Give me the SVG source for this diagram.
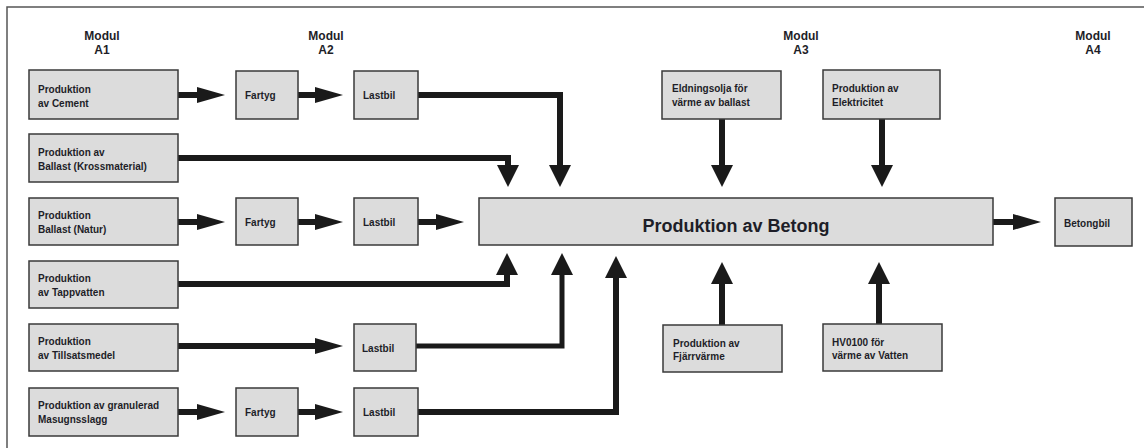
<svg xmlns="http://www.w3.org/2000/svg" width="1144" height="448" viewBox="0 0 1144 448">
<style>
.bg{fill:#ffffff}
.frame{fill:none;stroke:#555555;stroke-width:1.5}
.box{fill:#dcdcdc;stroke:#3a3a3a;stroke-width:1.5}
.t{font-family:"Liberation Sans",Arial,sans-serif;font-weight:bold;font-size:10px;fill:#1e1e28}
.mod{font-family:"Liberation Sans",Arial,sans-serif;font-weight:bold;font-size:12px;fill:#1e1e28;text-anchor:middle}
.big{font-family:"Liberation Sans",Arial,sans-serif;font-weight:bold;font-size:18px;fill:#1e1e28;text-anchor:middle}
.c{fill:none;stroke:#1a1a1a;stroke-width:6;stroke-linejoin:miter}
.c5{stroke-width:5}
</style>
<defs>
<marker id="mh" markerUnits="userSpaceOnUse" viewBox="0 -8 28 16" markerWidth="28" markerHeight="16" refX="2" refY="0" orient="auto">
<path d="M0,-8 L28,0 L0,8 Z" fill="#1a1a1a"/>
</marker>
<marker id="mv" markerUnits="userSpaceOnUse" viewBox="0 -11 22 22" markerWidth="22" markerHeight="22" refX="2" refY="0" orient="auto">
<path d="M0,-11 L22,0 L0,11 Z" fill="#1a1a1a"/>
</marker>
</defs>
<rect class="bg" x="0" y="0" width="1144" height="448"/>
<path class="frame" d="M7,448 V7 H1144"/>

<g id="labels">
<text class="mod" x="102" y="40">Modul</text><text class="mod" x="102" y="54">A1</text>
<text class="mod" x="326" y="40">Modul</text><text class="mod" x="326" y="54">A2</text>
<text class="mod" x="801" y="40">Modul</text><text class="mod" x="801" y="54">A3</text>
<text class="mod" x="1093" y="40">Modul</text><text class="mod" x="1093" y="54">A4</text>
</g>

<g id="connectors">
<path class="c" d="M178,95 H199" marker-end="url(#mh)"/>
<path class="c" d="M298,95 H317" marker-end="url(#mh)"/>
<path class="c" d="M418,95 H560 V167" marker-end="url(#mv)"/>
<path class="c" d="M178,158 H508 V167" marker-end="url(#mv)"/>
<path class="c" d="M178,222 H199" marker-end="url(#mh)"/>
<path class="c" d="M298,222 H317" marker-end="url(#mh)"/>
<path class="c" d="M418,222 H438" marker-end="url(#mh)"/>
<path class="c" d="M178,284 H507 V273" marker-end="url(#mv)"/>
<path class="c" d="M178,346 H317" marker-end="url(#mh)"/>
<path class="c c5" d="M416,346 H562 V273" marker-end="url(#mv)"/>
<path class="c" d="M178,412 H199" marker-end="url(#mh)"/>
<path class="c" d="M298,412 H317" marker-end="url(#mh)"/>
<path class="c" d="M418,412 H616 V276" marker-end="url(#mv)"/>
<path class="c" d="M722,119 V167" marker-end="url(#mv)"/>
<path class="c" d="M882,119 V167" marker-end="url(#mv)"/>
<path class="c" d="M722,325 V282" marker-end="url(#mv)"/>
<path class="c" d="M879,324 V282" marker-end="url(#mv)"/>
<path class="c" d="M993,222 H1015" marker-end="url(#mh)"/>
</g>

<g id="cement"><rect class="box" x="29" y="70" width="149" height="49"/><text class="t" x="38" y="92.5">Produktion</text><text class="t" x="38" y="106.5">av Cement</text></g>
<g id="fartyg1"><rect class="box" x="236" y="71" width="62" height="48"/><text class="t" x="245" y="99">Fartyg</text></g>
<g id="lastbil1"><rect class="box" x="354" y="71" width="64" height="48"/><text class="t" x="363" y="99">Lastbil</text></g>

<g id="kross"><rect class="box" x="29" y="134" width="149" height="48"/><text class="t" x="38" y="156">Produktion av</text><text class="t" x="38" y="170">Ballast (Krossmaterial)</text></g>

<g id="natur"><rect class="box" x="29" y="198" width="149" height="47"/><text class="t" x="38" y="219">Produktion</text><text class="t" x="38" y="233">Ballast (Natur)</text></g>
<g id="fartyg3"><rect class="box" x="236" y="198" width="62" height="47"/><text class="t" x="245" y="226">Fartyg</text></g>
<g id="lastbil3"><rect class="box" x="354" y="198" width="64" height="47"/><text class="t" x="363" y="226">Lastbil</text></g>

<g id="tappvatten"><rect class="box" x="29" y="261" width="149" height="47"/><text class="t" x="38" y="282">Produktion</text><text class="t" x="38" y="296">av Tappvatten</text></g>

<g id="tillsats"><rect class="box" x="29" y="324" width="149" height="47"/><text class="t" x="38" y="345">Produktion</text><text class="t" x="38" y="359">av Tillsatsmedel</text></g>
<g id="lastbil5"><rect class="box" x="354" y="324" width="62" height="47"/><text class="t" x="362" y="352">Lastbil</text></g>

<g id="slagg"><rect class="box" x="29" y="388" width="149" height="48"/><text class="t" x="38" y="409">Produktion av granulerad</text><text class="t" x="38" y="423">Masugnsslagg</text></g>
<g id="fartyg6"><rect class="box" x="236" y="388" width="62" height="48"/><text class="t" x="245" y="416">Fartyg</text></g>
<g id="lastbil6"><rect class="box" x="354" y="388" width="64" height="48"/><text class="t" x="363" y="416">Lastbil</text></g>

<g id="betong"><rect class="box" x="479" y="198" width="514" height="47"/><text class="big" x="736" y="232">Produktion av Betong</text></g>
<g id="betongbil"><rect class="box" x="1055" y="198" width="77" height="48"/><text class="t" x="1064" y="227">Betongbil</text></g>

<g id="eldningsolja"><rect class="box" x="662" y="71" width="119" height="48"/><text class="t" x="672" y="92">Eldningsolja för</text><text class="t" x="672" y="106">värme av ballast</text></g>
<g id="elektricitet"><rect class="box" x="823" y="70" width="117" height="49"/><text class="t" x="832" y="92">Produktion av</text><text class="t" x="832" y="106">Elektricitet</text></g>
<g id="fjarrvarme"><rect class="box" x="663" y="325" width="119" height="47"/><text class="t" x="673" y="347">Produktion av</text><text class="t" x="673" y="360">Fjärrvärme</text></g>
<g id="hvo"><rect class="box" x="823" y="324" width="119" height="47"/><text class="t" x="832" y="346">HV0100 för</text><text class="t" x="832" y="359">värme av Vatten</text></g>
</svg>
